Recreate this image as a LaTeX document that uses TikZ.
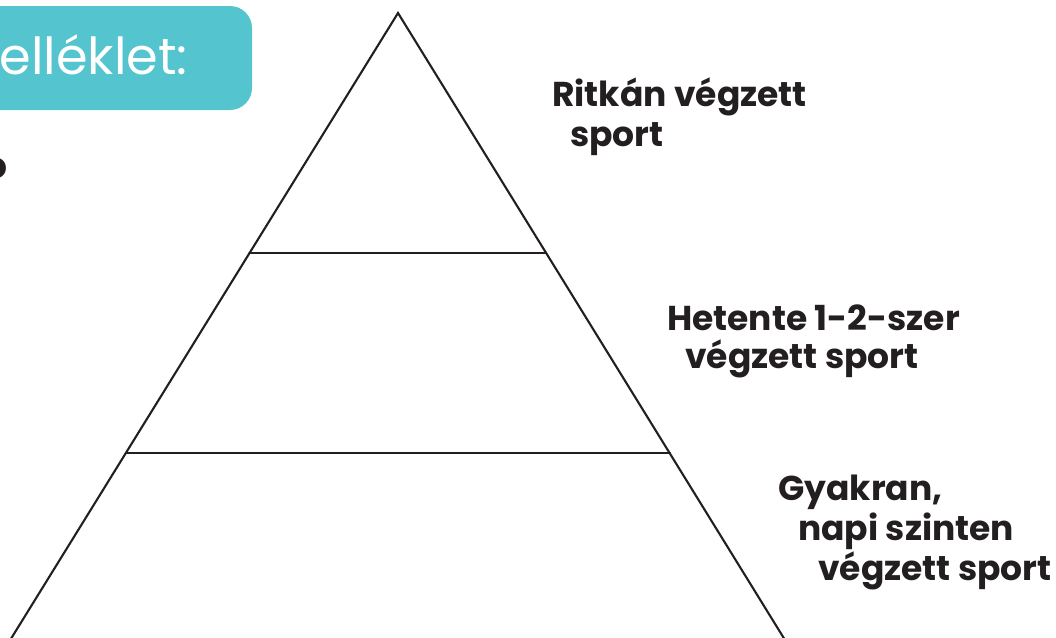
\documentclass[tikz,border=0pt]{standalone}
\usepackage{fontspec}
\setmainfont{Poppins}
\definecolor{tealbox}{HTML}{54C4CE}
\definecolor{ink}{HTML}{231F20}
\tikzset{
  lbl/.style={anchor=base west, inner sep=0pt, font=\fontsize{34.5}{38}\selectfont\bfseries, text=ink},
  edge/.style={draw=ink, line width=2.1pt, line cap=round, line join=miter},
}
\begin{document}
\begin{tikzpicture}[x=1pt,y=-1pt]
\useasboundingbox (0,0) rectangle (1056,637);
% teal header box
\fill[tealbox, rounded corners=22pt] (-40,6) rectangle (252,110);
\node[anchor=base east, inner sep=0pt, text=white, font=\fontsize{51}{56}\selectfont] (hdr) at (188,74) {elléklet:};
% partial letter at left edge
\node[anchor=base east, inner sep=0pt, text=ink, font=\fontsize{36}{40}\selectfont\bfseries] (cut) at (8,178) {o};
% pyramid
\coordinate (apex) at (398,13);
\coordinate (bl) at (10.2,640);
\coordinate (br) at (785,640);
\coordinate (l1) at (249.5,253);
\coordinate (r1) at (546,253);
\coordinate (l2) at (126,453);
\coordinate (r2) at (670,453);
\draw[edge] (bl) -- (apex) -- (br);
\draw[edge] (l1) -- (r1);
\draw[edge] (l2) -- (r2);
% labels
\node[lbl] (t1a) at (552,106) {Ritkán végzett};
\node[lbl] (t1b) at (570,146) {sport};
\node[lbl] (t2a) at (667,330) {Hetente 1-2-szer};
\node[lbl] (t2b) at (685,368) {végzett sport};
\node[lbl] (t3a) at (778,500) {Gyakran,};
\node[lbl] (t3b) at (798,540) {napi szinten};
\node[lbl] (t3c) at (818,580) {végzett sport};
\end{tikzpicture}
\end{document}
